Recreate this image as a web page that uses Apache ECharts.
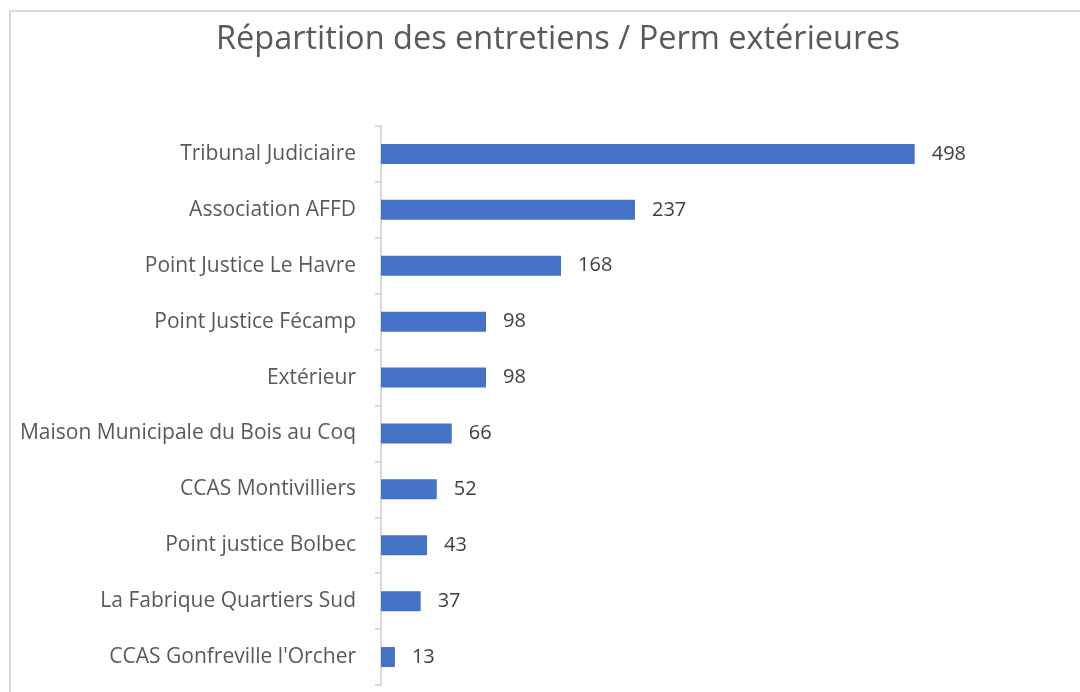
<!DOCTYPE html>
<html>
<head>
    <meta charset="utf-8">
    <title>ECharts</title>
    <script src="https://cdn.jsdelivr.net/npm/echarts@6/dist/echarts.min.js"></script>
    <style>
        body { margin: 0; background: #fff; }
    </style>
</head>
<body>

<div id="main" style="width: 1080px;height:692px;"></div>

<script type="text/javascript">
    var lieux = [
        'Tribunal Judiciaire',
        'Association AFFD',
        'Point Justice Le Havre',
        'Point Justice Fécamp',
        'Extérieur',
        'Maison Municipale du Bois au Coq',
        'CCAS Montivilliers',
        'Point justice Bolbec',
        'La Fabrique Quartiers Sud',
        "CCAS Gonfreville l'Orcher"
    ];
    var entretiens = [498, 237, 168, 98, 98, 66, 52, 43, 37, 13];

    var myChart = echarts.init(document.getElementById('main'));

    myChart.setOption({
        animation: false,
        textStyle: { fontFamily: 'Open Sans' },
        title: {
            text: 'Répartition des entretiens / Perm extérieures',
            left: 211,
            top: 18,
            textStyle: { fontSize: 32.5, fontWeight: 'normal', color: '#595959', fontFamily: 'Open Sans' }
        },
        graphic: [{
            type: 'rect',
            shape: { x: 10, y: 11, width: 1100, height: 720 },
            style: { fill: 'none', stroke: '#d9d9d9', lineWidth: 2 },
            silent: true
        }],
        grid: { left: 381, right: 56, top: 126, bottom: 7 },
        xAxis: {
            type: 'value',
            min: 0,
            max: 600,
            show: false
        },
        yAxis: {
            type: 'category',
            data: lieux,
            inverse: true,
            axisLine: { lineStyle: { color: '#d9d9d9', width: 2 } },
            axisTick: { show: true, length: 6, lineStyle: { color: '#d9d9d9', width: 2 } },
            axisLabel: { color: '#595959', fontSize: 21, margin: 25, padding: [3, 0, 0, 0] }
        },
        series: [{
            type: 'bar',
            data: entretiens,
            barWidth: 20,
            itemStyle: { color: '#4472C4' },
            label: {
                show: true,
                position: 'right',
                distance: 17,
                color: '#404040',
                fontSize: 20,
                padding: [3, 0, 0, 0]
            }
        }]
    });
</script>
</body>
</html>
